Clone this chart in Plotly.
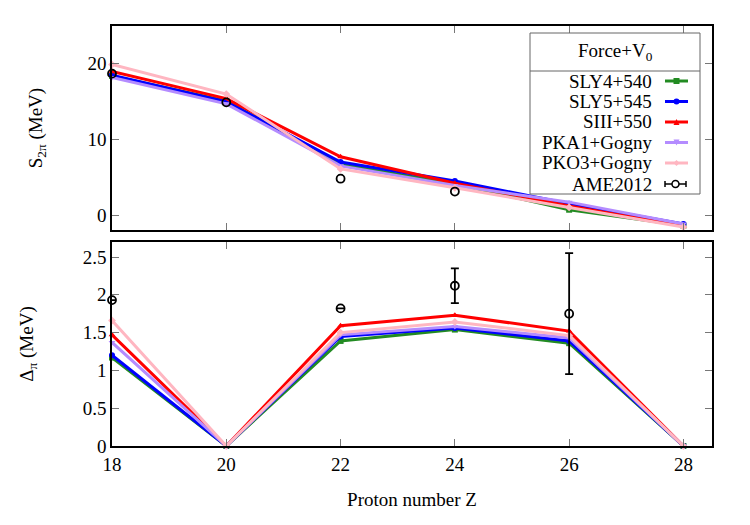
import plotly.graph_objects as go

Z = [18, 20, 22, 24, 26, 28]

series_names = ["SLY4+540", "SLY5+545", "SIII+550", "PKA1+Gogny", "PKO3+Gogny"]
series_colors = ["#228b22", "#0000ff", "#ff0000", "#b48cff", "#ffb6c1"]
series_symbols = ["square", "circle", "triangle-up", "triangle-down", "diamond"]

# Two-proton separation energies S_2pi (MeV)
s2p_sly4 = [18.4, 15.1, 6.7, 4.1, 0.7, -1.4]
s2p_sly5 = [18.5, 15.0, 7.0, 4.5, 1.5, -1.2]
s2p_siii = [19.0, 15.4, 7.7, 4.2, 1.2, -1.5]
s2p_pka1 = [18.2, 14.7, 6.5, 3.9, 1.7, -1.2]
s2p_pko3 = [19.9, 16.0, 6.1, 3.6, 1.0, -1.6]
s2p_models = [s2p_sly4, s2p_sly5, s2p_siii, s2p_pka1, s2p_pko3]

ame_s2p_Z = [18, 20, 22, 24]
ame_s2p = [18.7, 14.9, 4.8, 3.1]

# Pairing gaps Delta_pi (MeV)
gap_sly4 = [1.17, 0.0, 1.39, 1.54, 1.36, 0.0]
gap_sly5 = [1.20, 0.0, 1.45, 1.56, 1.39, 0.0]
gap_siii = [1.47, 0.0, 1.59, 1.73, 1.52, 0.0]
gap_pka1 = [1.37, 0.0, 1.47, 1.58, 1.43, 0.0]
gap_pko3 = [1.66, 0.0, 1.50, 1.64, 1.46, 0.0]
gap_models = [gap_sly4, gap_sly5, gap_siii, gap_pka1, gap_pko3]

ame_gap_Z = [18, 22, 24, 26]
ame_gap = [1.93, 1.82, 2.12, 1.75]
ame_gap_err = [0.0, 0.0, 0.23, 0.80]

FONT = "Liberation Serif, Times New Roman, Times, serif"
FS = 19

fig = go.Figure()

for name, col, sym, s2p, gap in zip(series_names, series_colors, series_symbols, s2p_models, gap_models):
    fig.add_trace(go.Scatter(x=Z, y=s2p, mode="lines+markers", name=name,
                             line=dict(color=col, width=3),
                             marker=dict(symbol=sym, size=6, color=col),
                             xaxis="x", yaxis="y", showlegend=False, cliponaxis=False))
    fig.add_trace(go.Scatter(x=Z, y=gap, mode="lines+markers", name=name,
                             line=dict(color=col, width=3),
                             marker=dict(symbol=sym, size=6, color=col),
                             xaxis="x2", yaxis="y2", showlegend=False, cliponaxis=False))

fig.add_trace(go.Scatter(x=ame_s2p_Z, y=ame_s2p, mode="markers", name="AME2012",
                         marker=dict(symbol="circle-open", size=8, color="black", line=dict(width=1.8)),
                         xaxis="x", yaxis="y", showlegend=False, cliponaxis=False))
fig.add_trace(go.Scatter(x=ame_gap_Z, y=ame_gap, mode="markers", name="AME2012",
                         marker=dict(symbol="circle-open", size=8, color="black", line=dict(width=1.8)),
                         error_y=dict(type="data", array=ame_gap_err, color="black", thickness=1.8, width=4),
                         xaxis="x2", yaxis="y2", showlegend=False, cliponaxis=False))

axis_common = dict(showline=True, linecolor="black", linewidth=1.5, mirror="allticks",
                   ticks="inside", ticklen=7, tickcolor="#777", tickwidth=1,
                   showgrid=False, zeroline=False,
                   tickfont=dict(family=FONT, size=FS, color="black"))

fig.update_layout(
    width=750, height=525,
    margin=dict(l=112, r=38, t=26, b=79),
    plot_bgcolor="white", paper_bgcolor="white",
    font=dict(family=FONT, size=FS, color="black"),
    xaxis=dict(axis_common, domain=[0, 1], anchor="y", range=[18, 28.5],
               tickvals=Z, showticklabels=False),
    yaxis=dict(axis_common, domain=[0.514, 1], anchor="x", range=[-2, 25],
               tickvals=[0, 10, 20],
               title=dict(text="S<sub>2π</sub> (MeV)", font=dict(family=FONT, size=FS), standoff=40)),
    xaxis2=dict(axis_common, domain=[0, 1], anchor="y2", range=[18, 28.5],
                tickvals=Z,
                title=dict(text="Proton number Z", font=dict(family=FONT, size=FS), standoff=19)),
    yaxis2=dict(axis_common, domain=[0, 0.486], anchor="x2", range=[0, 2.7],
                tickvals=[0, 0.5, 1, 1.5, 2, 2.5], ticktext=["0", "0.5", "1", "1.5", "2", "2.5"],
                title=dict(text="Δ<sub>π</sub> (MeV)", font=dict(family=FONT, size=FS), standoff=44)),
)

# Manual gnuplot-style legend (text left, sample right)
def px(xp):
    return (xp - 112) / 600.0

def py(yp):
    return (446 - yp) / 420.0

shapes = []
annotations = []
shapes.append(dict(type="rect", xref="paper", yref="paper", x0=px(530), x1=px(700), y0=py(194), y1=py(33),
                   line=dict(color="#666", width=1), fillcolor="white", layer="above"))
shapes.append(dict(type="line", xref="paper", yref="paper", x0=px(530), x1=px(700), y0=py(71), y1=py(71),
                   line=dict(color="#666", width=1), layer="above"))
annotations.append(dict(xref="paper", yref="paper", x=px(615), y=py(52), text="Force+V<sub>0</sub>",
                        showarrow=False, font=dict(family=FONT, size=FS), xanchor="center", yanchor="middle"))

entry_y = [81, 101.5, 122, 142.5, 163, 184]
lx0, lx1 = 665, 688
for i, (name, col, sym) in enumerate(zip(series_names, series_colors, series_symbols)):
    yy = entry_y[i]
    annotations.append(dict(xref="paper", yref="paper", x=px(654), y=py(yy), text=name, showarrow=False,
                            font=dict(family=FONT, size=FS), xanchor="right", yanchor="middle"))
    shapes.append(dict(type="line", xref="paper", yref="paper", x0=px(lx0), x1=px(lx1), y0=py(yy), y1=py(yy),
                       line=dict(color=col, width=3), layer="above"))
    cx = (lx0 + lx1) / 2
    r = 3
    if sym == "square":
        shapes.append(dict(type="rect", xref="paper", yref="paper", x0=px(cx - r), x1=px(cx + r),
                           y0=py(yy + r), y1=py(yy - r), line=dict(color=col, width=0), fillcolor=col, layer="above"))
    elif sym == "circle":
        shapes.append(dict(type="circle", xref="paper", yref="paper", x0=px(cx - r), x1=px(cx + r),
                           y0=py(yy + r), y1=py(yy - r), line=dict(color=col, width=0), fillcolor=col, layer="above"))
    else:
        if sym == "triangle-up":
            pts = [(cx - r, yy + r), (cx + r, yy + r), (cx, yy - r)]
        elif sym == "triangle-down":
            pts = [(cx - r, yy - r), (cx + r, yy - r), (cx, yy + r)]
        else:
            pts = [(cx - r, yy), (cx, yy - r), (cx + r, yy), (cx, yy + r)]
        path = "M " + " L ".join(f"{px(a):.5f},{py(b):.5f}" for a, b in pts) + " Z"
        shapes.append(dict(type="path", xref="paper", yref="paper", path=path,
                           line=dict(color=col, width=0), fillcolor=col, layer="above"))

# AME2012 legend entry
yy = entry_y[5]
annotations.append(dict(xref="paper", yref="paper", x=px(654), y=py(yy), text="AME2012", showarrow=False,
                        font=dict(family=FONT, size=FS), xanchor="right", yanchor="middle"))
shapes.append(dict(type="line", xref="paper", yref="paper", x0=px(665), x1=px(686), y0=py(yy), y1=py(yy),
                   line=dict(color="black", width=1.5), layer="above"))
for xe in (665, 686):
    shapes.append(dict(type="line", xref="paper", yref="paper", x0=px(xe), x1=px(xe), y0=py(yy - 3), y1=py(yy + 3),
                       line=dict(color="black", width=1.5), layer="above"))
shapes.append(dict(type="circle", xref="paper", yref="paper", x0=px(672), x1=px(679), y0=py(yy + 3.5), y1=py(yy - 3.5),
                   line=dict(color="black", width=1.5), fillcolor="white", layer="above"))

fig.update_layout(shapes=shapes, annotations=annotations)

fig.write_html("out.html")
